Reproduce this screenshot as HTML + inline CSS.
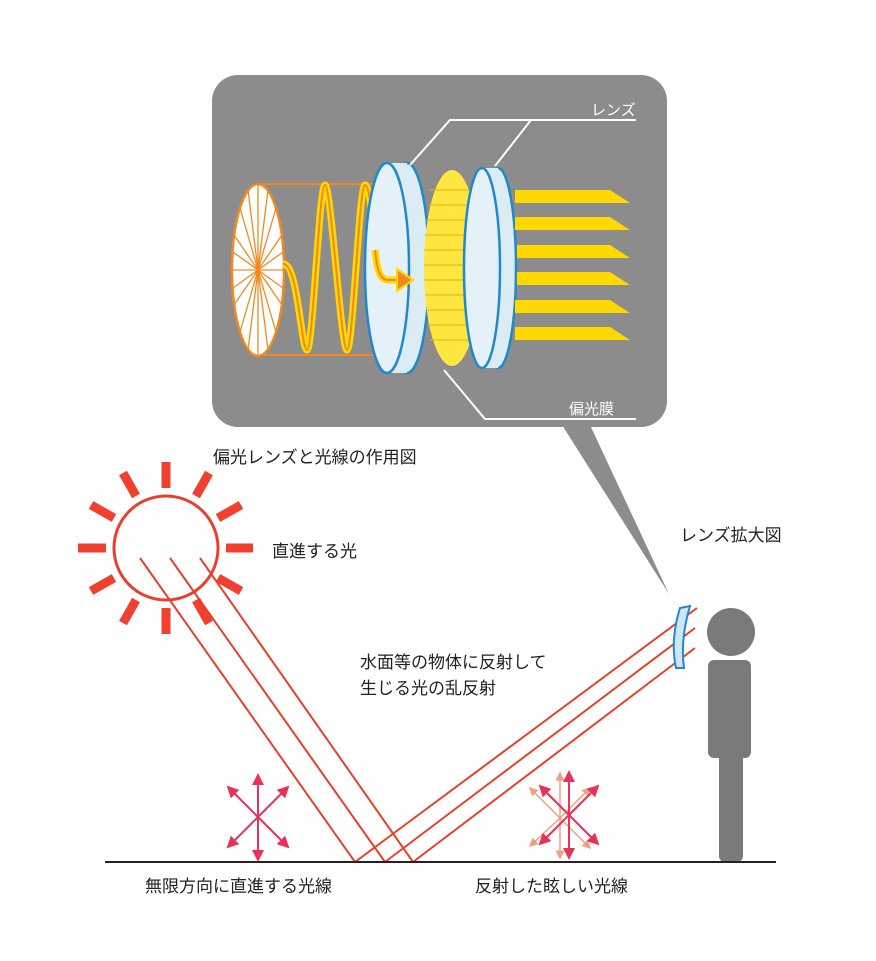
<!DOCTYPE html>
<html><head><meta charset="utf-8"><style>
body{margin:0;background:#fff}
svg{display:block}
text{font-family:"Liberation Sans","Noto Sans CJK JP",sans-serif;fill:#222;font-size:17px}
</style></head><body>
<svg width="876" height="961" viewBox="0 0 876 961" xmlns="http://www.w3.org/2000/svg">
<defs>
<marker id="ah" markerWidth="6" markerHeight="6" refX="5" refY="3" orient="auto" markerUnits="strokeWidth"><path d="M0,0 L6,3 L0,6 z" fill="#e8325a"/></marker>
<marker id="ah2" markerWidth="6" markerHeight="6" refX="5" refY="3" orient="auto" markerUnits="strokeWidth"><path d="M0,0 L6,3 L0,6 z" fill="#f0a080"/></marker>
</defs>
<path d="M562,425 L590,425 L669,594 Z" fill="#8c8c8c"/>
<rect x="212" y="75" width="455" height="352" rx="26" fill="#8c8c8c"/>
<line x1="258" y1="184" x2="387" y2="184" stroke="#f08a20" stroke-width="2"/>
<line x1="258" y1="355" x2="387" y2="355" stroke="#f08a20" stroke-width="2"/>
<ellipse cx="258" cy="270" rx="26" ry="86" fill="#fff" stroke="#f08a20" stroke-width="2.5"/>
<g stroke="#f08a20" stroke-width="1.3">
<line x1="232" y1="270" x2="284" y2="270"/><line x1="258" y1="184" x2="258" y2="356"/>
<line x1="240" y1="208" x2="276" y2="332"/><line x1="276" y1="208" x2="240" y2="332"/>
<line x1="234" y1="235" x2="282" y2="305"/><line x1="282" y1="235" x2="234" y2="305"/>
<line x1="248" y1="190" x2="268" y2="350"/><line x1="268" y1="190" x2="248" y2="350"/>
<line x1="233" y1="252" x2="283" y2="288"/><line x1="283" y1="252" x2="233" y2="288"/>
</g>
<path d="M283,264 C298,262 301,350 307,350 C313,350 319,185 325,185 C331,185 341,350 347,350 C353,350 359,185 365,185 C371,185 372,230 375,250" fill="none" stroke="#ffd800" stroke-width="7"/>
<path d="M283,264 C298,262 301,350 307,350 C313,350 319,185 325,185 C331,185 341,350 347,350 C353,350 359,185 365,185 C371,185 372,230 375,250" fill="none" stroke="#f08a20" stroke-width="2"/>
<ellipse cx="407" cy="268" rx="22" ry="105" fill="#dcecf4" stroke="#2288cc" stroke-width="2.5"/>
<rect x="387" y="163" width="20" height="210" fill="#dcecf4"/>
<ellipse cx="387" cy="268" rx="22" ry="105" fill="#e4f1f8" stroke="#2288cc" stroke-width="2.5"/>
<path d="M375,250 C377,270 380,280 388,280 L400,280" fill="none" stroke="#ffd800" stroke-width="7"/>
<path d="M375,250 C377,270 380,280 388,280 L400,280" fill="none" stroke="#f08a20" stroke-width="2"/>
<path d="M397,269 L413,280 L397,291 z" fill="#f08a20" stroke="#ffd800" stroke-width="2"/>
<ellipse cx="452" cy="268" rx="28" ry="98" fill="#ffe640"/>
<g stroke="#e8b000" stroke-width="1">
<line x1="430" y1="190" x2="475" y2="190"/><line x1="428" y1="205" x2="477" y2="205"/><line x1="426" y1="220" x2="478" y2="220"/><line x1="425" y1="235" x2="479" y2="235"/><line x1="424" y1="250" x2="480" y2="250"/><line x1="424" y1="265" x2="480" y2="265"/><line x1="424" y1="280" x2="480" y2="280"/><line x1="425" y1="295" x2="479" y2="295"/><line x1="426" y1="310" x2="478" y2="310"/><line x1="428" y1="325" x2="477" y2="325"/><line x1="430" y1="340" x2="475" y2="340"/>
</g>
<ellipse cx="498" cy="268" rx="18" ry="100" fill="#dcecf4" stroke="#2288cc" stroke-width="2.5"/>
<rect x="482" y="168" width="16" height="200" fill="#dcecf4"/>
<ellipse cx="482" cy="268" rx="18" ry="100" fill="#e4f1f8" stroke="#2288cc" stroke-width="2.5"/>
<g fill="#ffd800">
<path d="M515,190 L610,190 L630,203 L515,203 z"/>
<path d="M515,217 L610,217 L630,230 L515,230 z"/>
<path d="M517,245 L610,245 L630,258 L517,258 z"/>
<path d="M517,272 L610,272 L630,285 L517,285 z"/>
<path d="M515,300 L610,300 L630,313 L515,313 z"/>
<path d="M515,327 L610,327 L630,340 L515,340 z"/>
</g>
<g fill="none" stroke="#fff" stroke-width="2">
<path d="M410,165 L450,120 L636,120"/><path d="M495,166 L531,120"/>
<path d="M444,370 L485,419 L636,419"/>
</g>
<text x="591" y="115" style="fill:#fff;font-size:15px">レンズ</text>
<text x="569" y="414" style="fill:#fff;font-size:15px">偏光膜</text>
<text x="213" y="463">偏光レンズと光線の作用図</text>
<circle cx="166" cy="548" r="52" fill="none" stroke="#e84030" stroke-width="3"/>
<g stroke="#f04030" stroke-width="9">
<line x1="166" y1="462" x2="166" y2="488"/><line x1="166" y1="608" x2="166" y2="634"/>
<line x1="78" y1="548" x2="106" y2="548"/><line x1="226" y1="548" x2="253" y2="548"/>
<line x1="123" y1="473" x2="136" y2="496"/><line x1="196" y1="600" x2="209" y2="623"/>
<line x1="209" y1="473" x2="196" y2="496"/><line x1="136" y1="600" x2="123" y2="623"/>
<line x1="91" y1="505" x2="114" y2="518"/><line x1="218" y1="578" x2="241" y2="591"/>
<line x1="241" y1="505" x2="218" y2="518"/><line x1="114" y1="578" x2="91" y2="591"/>
</g>
<text x="272" y="557">直進する光</text>
<g fill="none" stroke="#e8402a" stroke-width="2">
<path d="M140,558 L355,862 L697,608"/>
<path d="M170,558 L385,862 L695,628"/>
<path d="M200,558 L413,862 L695,648"/>
</g>
<path d="M680,608 Q670,640 676,668 L684,668 Q680,640 690,606 z" fill="#cfe6f4" stroke="#2288cc" stroke-width="2"/>
<g fill="#7a7a7a">
<circle cx="731" cy="632" r="24"/>
<rect x="708" y="660" width="43" height="98" rx="6"/>
<rect x="719" y="745" width="24" height="117" rx="6"/>
</g>
<line x1="105" y1="862" x2="776" y2="862" stroke="#222" stroke-width="2"/>
<text x="680" y="541">レンズ拡大図</text>
<text x="360" y="668">水面等の物体に反射して</text>
<text x="360" y="694">生じる光の乱反射</text>
<g stroke="#e8325a" stroke-width="2" marker-end="url(#ah)">
<line x1="258" y1="817" x2="258" y2="775"/><line x1="258" y1="817" x2="258" y2="860"/>
<line x1="258" y1="817" x2="288" y2="787"/><line x1="258" y1="817" x2="228" y2="847"/>
<line x1="258" y1="817" x2="228" y2="787"/><line x1="258" y1="817" x2="288" y2="847"/>
</g>
<g stroke="#f0a080" stroke-width="1.5" marker-end="url(#ah2)">
<line x1="560" y1="818" x2="560" y2="773"/><line x1="560" y1="818" x2="560" y2="858"/>
<line x1="560" y1="818" x2="530" y2="788"/><line x1="560" y1="818" x2="590" y2="848"/>
<line x1="560" y1="818" x2="530" y2="846"/><line x1="560" y1="818" x2="590" y2="788"/>
</g>
<g stroke="#e8325a" stroke-width="2" marker-end="url(#ah)">
<line x1="569" y1="815" x2="569" y2="772"/><line x1="569" y1="815" x2="569" y2="858"/>
<line x1="569" y1="815" x2="598" y2="786"/><line x1="569" y1="815" x2="540" y2="844"/>
<line x1="569" y1="815" x2="540" y2="786"/><line x1="569" y1="815" x2="598" y2="844"/>
</g>
<text x="145" y="892">無限方向に直進する光線</text>
<text x="475" y="892">反射した眩しい光線</text>
</svg>
</body></html>
